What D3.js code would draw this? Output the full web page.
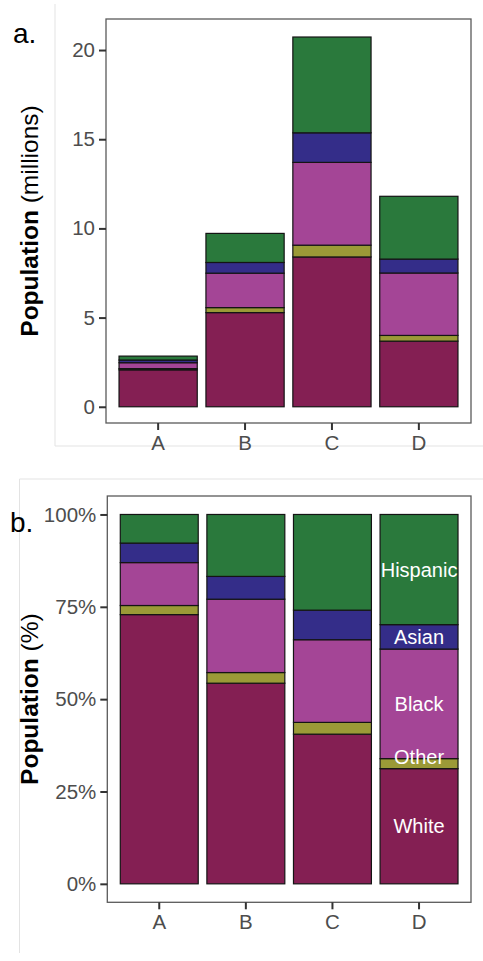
<!DOCTYPE html>
<html>
<head>
<meta charset="utf-8">
<title>Population by race</title>
<script src="https://d3js.org/d3.v7.min.js"></script>
<style>
  body { margin: 0; background: #fff; }
  svg { display: block; font-family: "Liberation Sans", Arial, sans-serif; }
</style>
</head>
<body>
<div id="chart"></div>
<script>
// data (millions), stacked bottom -> top
var groups = ["A", "B", "C", "D"];
var races = ["White", "Other", "Black", "Asian", "Hispanic"];
var white    = [2.07, 5.28, 8.40, 3.68];
var other    = [0.07, 0.28, 0.66, 0.32];
var black    = [0.33, 1.93, 4.64, 3.50];
var asian    = [0.15, 0.60, 1.66, 0.78];
var hispanic = [0.22, 1.63, 5.37, 3.52];
var colors = ["#841f53", "#9b9a37", "#a44596", "#342d89", "#2a793c"];
var ticksA = [0, 5, 10, 15, 20];
var ticksB = [0, 0.25, 0.5, 0.75, 1];

var rows = groups.map(function (g, i) {
    return { group: g, White: white[i], Other: other[i], Black: black[i], Asian: asian[i], Hispanic: hispanic[i] };
});

var svg = d3.select("#chart").append("svg")
    .attr("width", 483)
    .attr("height", 961);

// light gray figure frame lines
svg.append("path").attr("d", "M55,4V446H483")
    .attr("fill", "none").attr("stroke", "#e3e3e3").attr("stroke-width", 1);
svg.append("path").attr("d", "M483,479H19.5V953")
    .attr("fill", "none").attr("stroke", "#e3e3e3").attr("stroke-width", 1);

function panel(opts) {
    var g = svg.append("g");
    var x = d3.scaleBand().domain(groups)
        .range([opts.left + 0.1 * (opts.right - opts.left) / 4.2, opts.right - 0.1 * (opts.right - opts.left) / 4.2])
        .paddingInner(0.1).paddingOuter(0.05);
    var y = d3.scaleLinear().domain(opts.domain).range([opts.bottom, opts.top]);

    var stack = d3.stack().keys(races);
    if (opts.expand) stack.offset(d3.stackOffsetExpand);
    var series = stack(rows);

    var layer = g.selectAll("g.layer").data(series).enter().append("g")
        .attr("fill", function (d, i) { return colors[i]; });
    layer.selectAll("rect").data(function (d) { return d; }).enter().append("rect")
        .attr("x", function (d) { return x(d.data.group); })
        .attr("width", x.bandwidth())
        .attr("y", function (d) { return y(d[1]); })
        .attr("height", function (d) { return y(d[0]) - y(d[1]); })
        .attr("stroke", "#141414")
        .attr("stroke-width", 1.2);

    // panel border
    g.append("rect")
        .attr("x", opts.left).attr("y", opts.top)
        .attr("width", opts.right - opts.left).attr("height", opts.bottom - opts.top)
        .attr("fill", "none").attr("stroke", "#5a5a5a").attr("stroke-width", 1.3);

    var yAxis = d3.axisLeft(y).tickValues(opts.ticks).tickSize(7).tickPadding(4)
        .tickFormat(opts.format);
    var ya = g.append("g").attr("transform", "translate(" + opts.left + ",0)").call(yAxis);
    var xAxis = d3.axisBottom(x).tickSize(7).tickPadding(5);
    var xa = g.append("g").attr("transform", "translate(0," + opts.bottom + ")").call(xAxis);
    [ya, xa].forEach(function (a) {
        a.select(".domain").remove();
        a.selectAll(".tick line").attr("stroke", "#333").attr("stroke-width", 2);
        a.selectAll(".tick text").attr("fill", "#4d4d4d")
            .style("font-size", "20.5px").style("font-family", "Liberation Sans, Arial, sans-serif");
    });

    // y axis title
    var t = g.append("text")
        .attr("transform", "translate(38," + ((opts.top + opts.bottom) / 2) + ") rotate(-90)")
        .attr("text-anchor", "middle")
        .style("font-size", "24.5px")
        .attr("fill", "#000");
    t.append("tspan").attr("font-weight", "bold").text("Population");
    t.append("tspan").text(" " + opts.unit);

    return { x: x, y: y, series: series };
}

var a = panel({
    left: 106, right: 471, top: 19, bottom: 423,
    domain: [-0.91, 21.74], ticks: ticksA, format: d3.format("d"),
    unit: "(millions)", expand: false
});

var b = panel({
    left: 107.3, right: 471, top: 496, bottom: 902.3,
    domain: [-0.05, 1.05], ticks: ticksB, format: d3.format(".0%"),
    unit: "(%)", expand: true
});

// panel letters
svg.append("text").attr("x", 13).attr("y", 43).style("font-size", "28px").text("a.");
svg.append("text").attr("x", 10).attr("y", 532).style("font-size", "28px").text("b.");

// labels inside last bar of panel b
var last = groups.length - 1;
var nudge = { Other: -7 };
b.series.forEach(function (s) {
    var d = s[last];
    svg.append("text")
        .attr("x", b.x(groups[last]) + b.x.bandwidth() / 2)
        .attr("y", b.y((d[0] + d[1]) / 2) + (nudge[s.key] || 0))
        .attr("text-anchor", "middle")
        .attr("dominant-baseline", "central")
        .attr("fill", "#fff")
        .style("font-size", "20px")
        .text(s.key);
});
</script>
</body>
</html>
